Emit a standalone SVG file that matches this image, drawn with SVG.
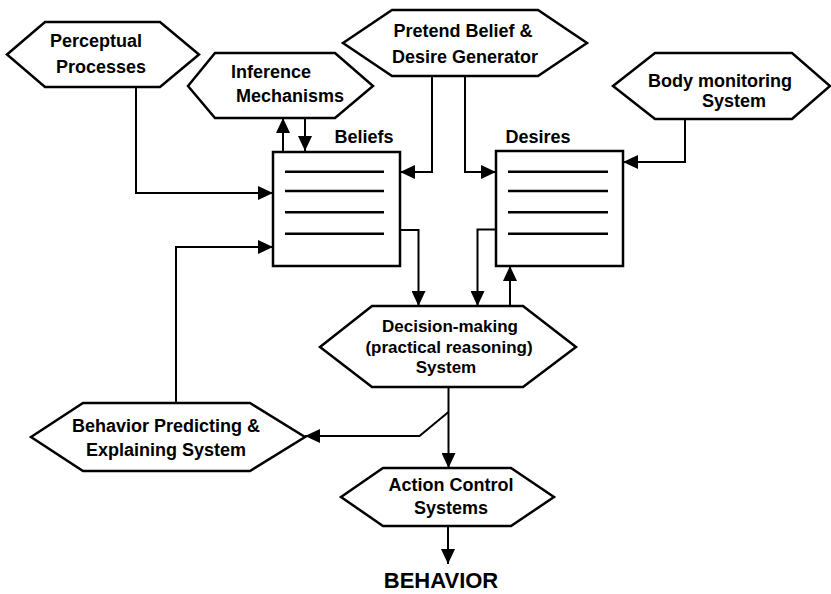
<svg xmlns="http://www.w3.org/2000/svg" width="831" height="594" viewBox="0 0 831 594">
<style>
.hex{fill:#fff;stroke:#000;stroke-width:2.5;stroke-linejoin:miter}
.box{fill:#fff;stroke:#000;stroke-width:2.5}
.ln{stroke:#000;stroke-width:2.5}
.t{font-family:"Liberation Sans",Arial,sans-serif;font-weight:bold;font-size:18px;text-anchor:middle;fill:#000}
.s{font-size:17px}
.c{fill:none;stroke:#000;stroke-width:2;marker-end:url(#ah)}
</style>
<defs>
<marker id="ah" markerUnits="userSpaceOnUse" markerWidth="15" markerHeight="14" refX="15" refY="7" orient="auto">
<path d="M0,0 L15,7 L0,14 z" fill="#000"/>
</marker>
</defs>
<rect width="831" height="594" fill="#fff"/>
<g id="connectors">
<path class="c" d="M136,87 V193 H273"/>
<path class="c" d="M283,152 V118"/>
<path class="c" d="M305,118 V151"/>
<path class="c" d="M432,76 V172 H400"/>
<path class="c" d="M465,76 V172 H496"/>
<path class="c" d="M685,119 V162 H623"/>
<path class="c" d="M400,230 H418.5 V306"/>
<path class="c" d="M496,229.5 H477.5 V306"/>
<path class="c" d="M510,306 V266"/>
<path class="c" d="M176,403 V247 H273"/>
<path class="c" d="M448.5,387 V468"/>
<path class="c" d="M448.5,412 L419.5,436 H305"/>
<path class="c" d="M448,526 V564"/>
</g>
<g id="perceptual">
<polygon class="hex" points="7,54.5 45,22 160,22 199,54.5 160,87 45,87"/>
<text class="t" x="96" y="47">Perceptual</text>
<text class="t" x="101" y="73">Processes</text>
</g>
<g id="inference">
<polygon class="hex" points="188,86 215,53 335,53 373,86 335,118 215,118"/>
<text class="t" x="271" y="78">Inference</text>
<text class="t" x="290" y="102">Mechanisms</text>
</g>
<g id="pretend">
<polygon class="hex" points="343,43 392,10 538,10 587,43 538,76 392,76"/>
<text class="t" x="463" y="37">Pretend Belief &amp;</text>
<text class="t" x="465" y="63">Desire Generator</text>
</g>
<g id="body">
<polygon class="hex" points="613,86 655,53 792,53 830,86 792,119 655,119"/>
<text class="t" x="720" y="87">Body monitoring</text>
<text class="t" x="734" y="107">System</text>
</g>
<g id="beliefs">
<text class="t" x="364" y="143">Beliefs</text>
<rect class="box" x="273" y="152" width="127" height="114"/>
<path class="ln" d="M285,171.7 H384 M285,191 H384 M285,212.3 H384 M285,233.7 H384"/>
</g>
<g id="desires">
<text class="t" x="538" y="143">Desires</text>
<rect class="box" x="496" y="151" width="127" height="115"/>
<path class="ln" d="M508,171.7 H608 M508,191 H608 M508,212.3 H608 M508,233.7 H608"/>
</g>
<g id="decision">
<polygon class="hex" points="320,347 372,306 523,306 576,347 523,387 372,387"/>
<text class="t s" x="450" y="332">Decision-making</text>
<text class="t s" x="449" y="353">(practical reasoning)</text>
<text class="t s" x="446" y="373">System</text>
</g>
<g id="behavior-predicting">
<polygon class="hex" points="31,437 83,403 250,403 305,437 250,471 83,471"/>
<text class="t" x="166" y="432">Behavior Predicting &amp;</text>
<text class="t" x="166" y="456">Explaining System</text>
</g>
<g id="action">
<polygon class="hex" points="341,497 383,468 511,468 554,497 511,526 383,526"/>
<text class="t" x="451" y="491">Action Control</text>
<text class="t" x="451" y="514">Systems</text>
</g>
<g id="behavior">
<text class="t" x="441" y="588" style="font-size:22px">BEHAVIOR</text>
</g>
</svg>
